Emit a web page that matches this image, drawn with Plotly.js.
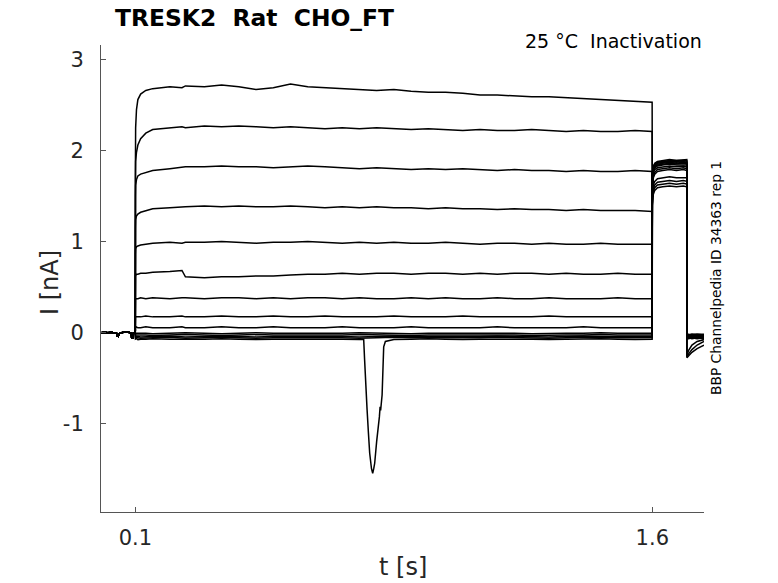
<!DOCTYPE html>
<html>
<head>
<meta charset="utf-8">
<script src="https://cdn.plot.ly/plotly-3.0.1.min.js"></script>
<style>html,body{margin:0;padding:0;background:#fff}</style>
</head>
<body>
<div id="myDiv" style="width:778px;height:583px"></div>
<script>
// holding segment, same for every sweep (t in s, I in nA)
const holdT = [0, 0.01, 0.02, 0.03, 0.04, 0.045, 0.047, 0.05, 0.052, 0.055, 0.06, 0.07, 0.08, 0.088, 0.089, 0.093, 0.094, 0.0995];
const holdI = [-0.005, 0.0, -0.005, 0.0, -0.01, -0.01, -0.04, -0.045, -0.02, -0.01, -0.005, 0.005, 0.0, -0.01, -0.06, -0.06, -0.01, -0.01];

// prepulse 0.1 - 1.6 s
const stepT = [0.1, 0.1005, 0.103, 0.107, 0.115, 0.13, 0.15, 0.2, 0.235, 0.245,
    0.3, 0.35, 0.4, 0.45, 0.5, 0.55, 0.6, 0.65, 0.7, 0.75, 0.8, 0.85, 0.9, 0.95,
    1.0, 1.05, 1.1, 1.15, 1.2, 1.25, 1.3, 1.35, 1.4, 1.45, 1.5, 1.55, 1.5995];

const stepI = [
    [1.90, 2.25, 2.45, 2.56, 2.62, 2.66, 2.68, 2.70, 2.69, 2.71,
     2.70, 2.72, 2.70, 2.67, 2.69, 2.73, 2.70, 2.69, 2.68, 2.67, 2.66, 2.67, 2.65, 2.64,
     2.64, 2.63, 2.61, 2.61, 2.60, 2.59, 2.59, 2.58, 2.57, 2.56, 2.55, 2.54, 2.53],
    [1.70, 1.88, 1.98, 2.06, 2.13, 2.19, 2.23, 2.25, 2.26, 2.25,
     2.27, 2.26, 2.27, 2.26, 2.25, 2.26, 2.25, 2.24, 2.25, 2.24, 2.25, 2.24, 2.23, 2.24,
     2.23, 2.22, 2.23, 2.22, 2.22, 2.23, 2.22, 2.21, 2.22, 2.21, 2.21, 2.22, 2.21],
    [1.50, 1.62, 1.68, 1.72, 1.74, 1.76, 1.78, 1.80, 1.81, 1.82,
     1.82, 1.83, 1.82, 1.82, 1.81, 1.82, 1.83, 1.82, 1.81, 1.80, 1.81, 1.80, 1.79, 1.80,
     1.79, 1.80, 1.79, 1.78, 1.79, 1.78, 1.78, 1.77, 1.78, 1.77, 1.77, 1.78, 1.77],
    [1.15, 1.24, 1.28, 1.30, 1.32, 1.34, 1.36, 1.37, 1.38, 1.38,
     1.39, 1.38, 1.39, 1.38, 1.38, 1.39, 1.38, 1.37, 1.38, 1.37, 1.38, 1.37, 1.37, 1.36,
     1.37, 1.36, 1.36, 1.35, 1.36, 1.35, 1.35, 1.34, 1.35, 1.34, 1.34, 1.34, 1.33],
    [0.86, 0.92, 0.94, 0.95, 0.96, 0.97, 0.98, 0.99, 0.98, 0.99,
     0.99, 1.00, 0.99, 0.98, 0.99, 0.99, 1.00, 0.99, 0.98, 0.99, 0.98, 0.99, 0.98, 0.98,
     0.99, 0.98, 0.97, 0.98, 0.98, 0.97, 0.98, 0.97, 0.97, 0.98, 0.97, 0.97, 0.97],
    [0.62, 0.63, 0.64, 0.64, 0.65, 0.65, 0.66, 0.67, 0.68, 0.61,
     0.60, 0.61, 0.61, 0.62, 0.62, 0.63, 0.64, 0.64, 0.65, 0.64, 0.65, 0.65, 0.64, 0.65,
     0.65, 0.64, 0.65, 0.64, 0.65, 0.65, 0.64, 0.65, 0.64, 0.64, 0.65, 0.64, 0.64],
    [0.36, 0.37, 0.37, 0.37, 0.38, 0.37, 0.38, 0.37, 0.38, 0.38,
     0.37, 0.38, 0.38, 0.37, 0.38, 0.37, 0.38, 0.38, 0.37, 0.38, 0.37, 0.37, 0.38, 0.37,
     0.38, 0.37, 0.37, 0.38, 0.37, 0.37, 0.38, 0.37, 0.37, 0.37, 0.38, 0.37, 0.37],
    [0.16, 0.17, 0.17, 0.17, 0.17, 0.18, 0.17, 0.17, 0.18, 0.17,
     0.17, 0.18, 0.17, 0.17, 0.18, 0.17, 0.17, 0.18, 0.17, 0.17, 0.17, 0.18, 0.17, 0.17,
     0.17, 0.18, 0.17, 0.17, 0.17, 0.17, 0.18, 0.17, 0.17, 0.17, 0.17, 0.17, 0.17],
    [0.05, 0.05, 0.06, 0.05, 0.05, 0.06, 0.05, 0.05, 0.06, 0.05,
     0.05, 0.06, 0.05, 0.05, 0.06, 0.05, 0.05, 0.05, 0.06, 0.05, 0.05, 0.05, 0.06, 0.05,
     0.05, 0.05, 0.05, 0.06, 0.05, 0.05, 0.05, 0.05, 0.06, 0.05, 0.05, 0.05, 0.05],
    [-0.01, -0.01, -0.01, -0.005, -0.01, -0.01, -0.015, -0.01, -0.01, -0.005,
     -0.01, -0.015, -0.01, -0.005, -0.01, -0.01, -0.015, -0.01, -0.01, -0.005, -0.01, -0.01, -0.015, -0.01,
     -0.01, -0.01, -0.005, -0.01, -0.01, -0.015, -0.01, -0.01, -0.01, -0.005, -0.01, -0.01, -0.01],
    [-0.03, -0.03, -0.03, -0.025, -0.03, -0.03, -0.035, -0.03, -0.03, -0.025,
     -0.03, -0.035, -0.03, -0.025, -0.03, -0.03, -0.035, -0.03, -0.03, -0.025, -0.03, -0.03, -0.035, -0.03,
     -0.03, -0.03, -0.025, -0.03, -0.03, -0.035, -0.03, -0.03, -0.03, -0.025, -0.03, -0.03, -0.03],
    [-0.045, -0.045, -0.04, -0.045, -0.05, -0.045, -0.045, -0.04, -0.045, -0.05,
     -0.045, -0.04, -0.045, -0.05, -0.045, -0.045, -0.04, -0.045, -0.045, -0.05, -0.045, -0.04, -0.045, -0.045,
     -0.05, -0.045, -0.045, -0.04, -0.045, -0.045, -0.05, -0.045, -0.04, -0.045, -0.045, -0.05, -0.045],
    [-0.06, -0.06, -0.055, -0.06, -0.065, -0.06, -0.06, -0.055, -0.06, -0.065,
     -0.06, -0.055, -0.06, -0.065, -0.06, -0.06, -0.055, -0.06, -0.06, -0.065, -0.06, -0.055, -0.06, -0.06,
     -0.065, -0.06, -0.06, -0.055, -0.06, -0.06, -0.065, -0.06, -0.055, -0.06, -0.06, -0.065, -0.06],
    [-0.075, -0.075, -0.07, -0.08, -0.075, -0.075, -0.07, -0.075, -0.08, -0.075,
     -0.075, -0.07, -0.075, -0.08, -0.075, -0.075, -0.07, -0.075, -0.075, -0.08, -0.075, -0.08, -0.075, -0.07,
     -0.075, -0.08, -0.075, -0.075, -0.07, -0.075, -0.08, -0.075, -0.075, -0.07, -0.075, -0.08, -0.075]
];

// test pulse 1.6 - 1.7 s
const tailT = [1.6, 1.6005, 1.603, 1.607, 1.615, 1.63, 1.65, 1.67, 1.69, 1.7];
const tailI = [
    [1.40, 1.45, 1.52, 1.56, 1.59, 1.60, 1.61, 1.60, 1.61, 1.60],
    [1.42, 1.48, 1.55, 1.59, 1.62, 1.63, 1.64, 1.63, 1.64, 1.63],
    [1.45, 1.52, 1.58, 1.62, 1.65, 1.66, 1.67, 1.66, 1.67, 1.66],
    [1.48, 1.56, 1.62, 1.66, 1.69, 1.70, 1.71, 1.70, 1.70, 1.70],
    [1.52, 1.62, 1.70, 1.74, 1.77, 1.78, 1.79, 1.78, 1.79, 1.78],
    [1.55, 1.65, 1.72, 1.76, 1.79, 1.80, 1.81, 1.80, 1.81, 1.80],
    [1.58, 1.68, 1.75, 1.79, 1.81, 1.82, 1.83, 1.82, 1.83, 1.82],
    [1.60, 1.70, 1.77, 1.81, 1.83, 1.84, 1.85, 1.84, 1.84, 1.84],
    [1.62, 1.72, 1.78, 1.82, 1.84, 1.85, 1.86, 1.85, 1.86, 1.85],
    [1.63, 1.73, 1.79, 1.83, 1.85, 1.86, 1.87, 1.86, 1.87, 1.86],
    [1.64, 1.74, 1.80, 1.84, 1.86, 1.87, 1.88, 1.87, 1.88, 1.87],
    [1.65, 1.75, 1.81, 1.85, 1.87, 1.88, 1.88, 1.88, 1.89, 1.88],
    [1.65, 1.76, 1.82, 1.85, 1.87, 1.88, 1.89, 1.89, 1.89, 1.89],
    [1.66, 1.76, 1.82, 1.86, 1.88, 1.89, 1.90, 1.89, 1.90, 1.90]
];

// after the test pulse
const postT = [1.7005, 1.705, 1.715, 1.73, 1.75];
const postI = [
    [-0.28, -0.26, -0.22, -0.18, -0.14],
    [-0.27, -0.24, -0.19, -0.14, -0.10],
    [-0.26, -0.20, -0.14, -0.10, -0.08],
    [-0.07, -0.07, -0.06, -0.07, -0.06],
    [-0.06, -0.06, -0.05, -0.06, -0.05],
    [-0.05, -0.05, -0.04, -0.05, -0.04],
    [-0.04, -0.04, -0.05, -0.04, -0.04],
    [-0.03, -0.04, -0.03, -0.04, -0.03],
    [-0.03, -0.03, -0.02, -0.03, -0.03],
    [-0.02, -0.03, -0.02, -0.02, -0.03],
    [-0.07, -0.06, -0.07, -0.06, -0.07],
    [-0.05, -0.06, -0.05, -0.06, -0.05],
    [-0.04, -0.03, -0.04, -0.03, -0.04],
    [-0.02, -0.02, -0.03, -0.02, -0.02]
];

// inward glitch of the last sweep around 0.78 s
const dipSweep = 13;
const dipT = [0.7624, 0.765, 0.7673, 0.7722, 0.776, 0.7798, 0.785, 0.7885, 0.7915, 0.7943,
    0.80, 0.8042, 0.8079, 0.81, 0.8115, 0.8158, 0.819, 0.8204, 0.8253, 0.84];
const dipI = [-0.08, -0.30, -0.52, -0.85, -1.10, -1.33, -1.50, -1.55, -1.50, -1.44,
    -1.20, -1.07, -0.93, -0.82, -0.86, -0.69, -0.35, -0.16, -0.10, -0.09];

const xTicks = [0.1, 1.6];
const xTickText = ['0.1', '1.6'];
const yTicks = [-1, 0, 1, 2, 3];
const yTickText = ['-1', '0', '1', '2', '3'];

let traces = [];
for (let k = 0; k < stepI.length; k++) {
    let x = holdT.concat(stepT, tailT, postT);
    let y = holdI.concat(stepI[k], tailI[k], postI[k]);
    if (k == dipSweep) {
        let pts = [];
        x.forEach((t, i) => {
            if (t < dipT[0] || t > dipT[dipT.length - 1]) pts.push([t, y[i]]);
        });
        dipT.forEach((t, i) => pts.push([t, dipI[i]]));
        pts.sort((a, b) => a[0] - b[0]);
        x = pts.map(p => p[0]);
        y = pts.map(p => p[1]);
    }
    traces.push({
        x: x,
        y: y,
        type: 'scatter',
        mode: 'lines',
        line: { color: '#000', width: 1.5 },
        hoverinfo: 'skip',
        showlegend: false
    });
}

const font = 'DejaVu Sans';
const axisCol = '#555';

let layout = {
    width: 778,
    height: 583,
    margin: { l: 101, r: 74, t: 45, b: 71 },
    paper_bgcolor: '#fff',
    plot_bgcolor: '#fff',
    showlegend: false,
    title: {
        text: '<b>TRESK2\u00A0 Rat\u00A0 CHO_FT</b>',
        font: { family: font, size: 23.4, color: '#000' },
        xref: 'container', x: 115 / 778, xanchor: 'left',
        yref: 'container', y: 1 - 18 / 583, yanchor: 'middle'
    },
    xaxis: {
        range: [0, 1.75],
        tickvals: xTicks,
        ticktext: xTickText,
        ticks: 'inside', ticklen: 5, tickcolor: axisCol,
        showline: true, linecolor: axisCol, linewidth: 1,
        showgrid: false, zeroline: false,
        ticklabelstandoff: 7,
        tickfont: { family: font, size: 21, color: '#262626' }
    },
    yaxis: {
        range: [-1.976, 3.16],
        tickvals: yTicks,
        ticktext: yTickText,
        ticks: 'inside', ticklen: 5, tickcolor: axisCol,
        showline: true, linecolor: axisCol, linewidth: 1,
        showgrid: false, zeroline: false,
        ticklabelstandoff: 12,
        tickfont: { family: font, size: 21, color: '#262626' }
    },
    annotations: [
        {
            text: '25 °C\u00A0 Inactivation', showarrow: false,
            xref: 'paper', x: 1, xanchor: 'right',
            yref: 'paper', y: 1.0086, yanchor: 'middle',
            font: { family: font, size: 19, color: '#000' }
        },
        {
            text: 'BBP Channelpedia ID 34363 rep 1', showarrow: false,
            xref: 'paper', x: 1.0199, xanchor: 'center',
            yref: 'paper', y: 0.501, yanchor: 'middle',
            textangle: -90,
            font: { family: font, size: 13.8, color: '#000' }
        },
        {
            text: 't [s]', showarrow: false,
            xref: 'paper', x: 0.5, xanchor: 'center',
            yref: 'paper', y: -0.1178, yanchor: 'middle',
            font: { family: font, size: 24, color: '#262626' }
        },
        {
            text: 'I [nA]', showarrow: false,
            xref: 'paper', x: -0.0846, xanchor: 'center',
            yref: 'paper', y: 0.4925, yanchor: 'middle',
            textangle: -90,
            font: { family: font, size: 24, color: '#262626' }
        }
    ]
};

Plotly.newPlot('myDiv', traces, layout, { displayModeBar: false, staticPlot: true });
</script>
</body>
</html>
